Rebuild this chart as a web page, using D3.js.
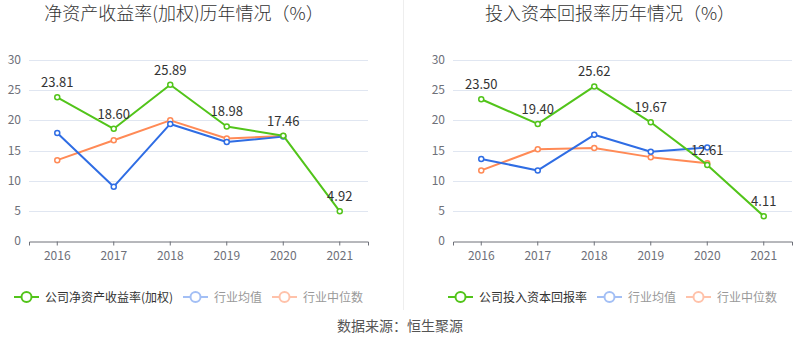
<!DOCTYPE html>
<html lang="zh">
<head>
<meta charset="utf-8">
<title>净资产收益率与投入资本回报率</title>
<script src="https://cdn.jsdelivr.net/npm/d3@7"></script>
<style>
  body { margin: 0; background: #fff; }
  text { font-family: "Noto Sans CJK SC", "Noto Sans", sans-serif; }
</style>
</head>
<body>
<script>
// data
var years = ["2016", "2017", "2018", "2019", "2020", "2021"];
var yTicks = [0, 5, 10, 15, 20, 25, 30];

var roeCompany = [23.81, 18.60, 25.89, 18.98, 17.46, 4.92];
var roeAvg = [17.9, 9.0, 19.4, 16.4, 17.3];
var roeMedian = [13.4, 16.7, 20.0, 17.0, 17.4];

var roicCompany = [23.50, 19.40, 25.62, 19.67, 12.61, 4.11];
var roicAvg = [13.6, 11.7, 17.6, 14.8, 15.5];
var roicMedian = [11.7, 15.2, 15.4, 13.9, 12.9];

var w = 800, h = 358;
var green = "#52c41a", blue = "#2f6de4", orange = "#ff8a56";

var svg = d3.select("body").append("svg")
  .attr("width", w)
  .attr("height", h);

// divider between the two panels
svg.append("line")
  .attr("x1", 403.5).attr("x2", 403.5)
  .attr("y1", 0).attr("y2", 310)
  .attr("stroke", "#eeeeee");

function drawPanel(opt) {
  var xScale = d3.scaleBand()
    .domain(years)
    .range([opt.left, opt.right]);

  var yScale = d3.scaleLinear()
    .domain([0, 30])
    .range([241, 60]);

  var g = svg.append("g");

  // title
  g.append("text")
    .attr("x", opt.titleX)
    .attr("y", 20)
    .attr("text-anchor", "middle")
    .attr("font-size", "18px")
    .attr("font-weight", 300)
    .attr("fill", "#333")
    .text(opt.title);

  // grid
  g.selectAll(".grid")
    .data(yTicks.slice(1))
    .enter()
    .append("line")
    .attr("x1", opt.left).attr("x2", opt.right)
    .attr("y1", function(d) { return Math.round(yScale(d)) + 0.5; })
    .attr("y2", function(d) { return Math.round(yScale(d)) + 0.5; })
    .attr("stroke", "#e0e6f1");

  // y labels
  g.selectAll(".ylab")
    .data(yTicks)
    .enter()
    .append("text")
    .attr("x", opt.left - 8)
    .attr("y", function(d) { return yScale(d) + 4; })
    .attr("text-anchor", "end")
    .attr("font-size", "12px")
    .attr("fill", "#6e7079")
    .text(function(d) { return d; });

  // x axis
  var xAxis = d3.axisBottom(xScale).tickSize(4).tickPadding(6);
  var ax = g.append("g")
    .attr("transform", "translate(0,241.5)")
    .call(xAxis);
  ax.select(".domain").attr("stroke", "#6e7079");
  ax.selectAll(".tick line").attr("stroke", "#6e7079");
  ax.selectAll(".tick text")
    .attr("font-size", "12px")
    .attr("fill", "#6e7079")
    .style("font-family", "'Noto Sans CJK SC', sans-serif");

  var line = d3.line()
    .x(function(d, i) { return xScale(years[i]) + xScale.bandwidth() / 2; })
    .y(function(d) { return yScale(d); });

  function series(values, color) {
    g.append("path")
      .datum(values)
      .attr("d", line)
      .attr("fill", "none")
      .attr("stroke", color)
      .attr("stroke-width", 2)
      .attr("stroke-linejoin", "round");
    g.selectAll(null)
      .data(values)
      .enter()
      .append("circle")
      .attr("cx", function(d, i) { return xScale(years[i]) + xScale.bandwidth() / 2; })
      .attr("cy", function(d) { return yScale(d); })
      .attr("r", 2.5)
      .attr("fill", "#fff")
      .attr("stroke", color)
      .attr("stroke-width", 1.5);
  }

  series(opt.median, orange);
  series(opt.avg, blue);
  series(opt.company, green);

  // value labels
  g.selectAll(".vlab")
    .data(opt.company)
    .enter()
    .append("text")
    .attr("x", function(d, i) { return xScale(years[i]) + xScale.bandwidth() / 2; })
    .attr("y", function(d) { return yScale(d) - 10; })
    .attr("text-anchor", "middle")
    .attr("font-size", "13px")
    .attr("fill", "#333")
    .text(function(d) { return d.toFixed(2); });

  // legend
  var items = [
    { x: opt.legendX[0], name: opt.companyName, color: green, text: "#333" },
    { x: opt.legendX[1], name: "行业均值", color: "#a3bff5", text: "#999" },
    { x: opt.legendX[2], name: "行业中位数", color: "#ffc2aa", text: "#999" }
  ];
  var lg = g.selectAll(".legend")
    .data(items)
    .enter()
    .append("g")
    .attr("transform", function(d) { return "translate(" + d.x + ",297)"; });
  lg.append("line")
    .attr("x1", 0).attr("x2", 25)
    .attr("stroke", function(d) { return d.color; })
    .attr("stroke-width", 2);
  lg.append("circle")
    .attr("cx", 12.5)
    .attr("r", 5)
    .attr("fill", "#fff")
    .attr("stroke", function(d) { return d.color; })
    .attr("stroke-width", 2);
  lg.append("text")
    .attr("x", 31)
    .attr("y", 4.5)
    .attr("font-size", "12px")
    .attr("fill", function(d) { return d.text; })
    .text(function(d) { return d.name; });
}

drawPanel({
  left: 29, right: 368, titleX: 184,
  title: "净资产收益率(加权)历年情况（%）",
  company: roeCompany, avg: roeAvg, median: roeMedian,
  companyName: "公司净资产收益率(加权)",
  legendX: [14, 183, 272]
});

drawPanel({
  left: 453, right: 792, titleX: 610,
  title: "投入资本回报率历年情况（%）",
  company: roicCompany, avg: roicAvg, median: roicMedian,
  companyName: "公司投入资本回报率",
  legendX: [448, 597, 686]
});

// source
svg.append("text")
  .attr("x", 400)
  .attr("y", 331)
  .attr("text-anchor", "middle")
  .attr("font-size", "14px")
  .attr("fill", "#555")
  .text("数据来源：恒生聚源");
</script>
</body>
</html>
